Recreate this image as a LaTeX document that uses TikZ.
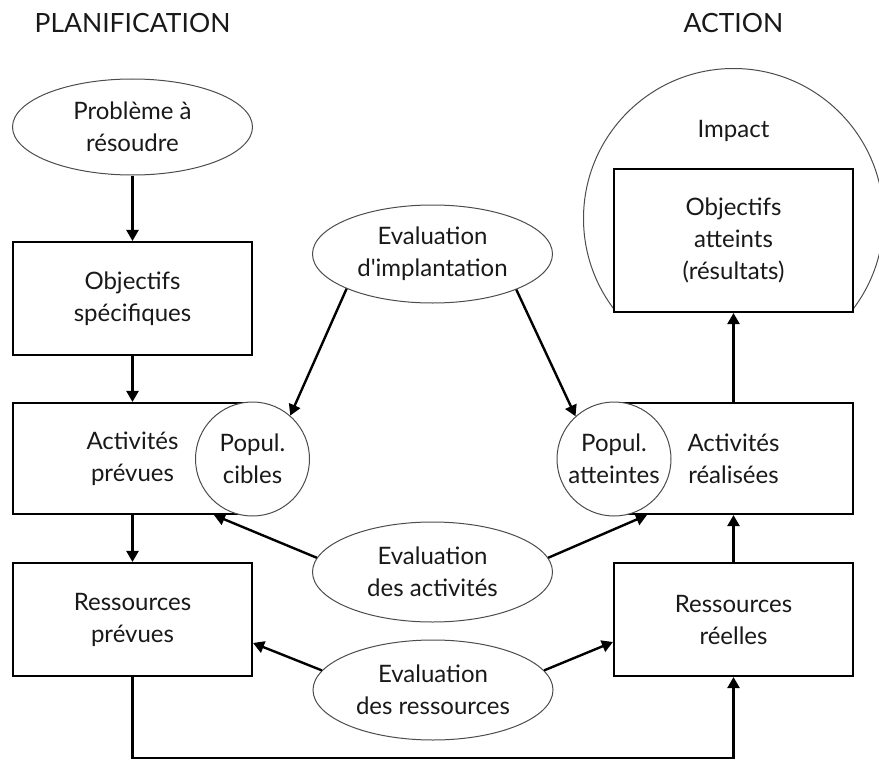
\documentclass[tikz,border=0pt]{standalone}
\usepackage{fontspec}
\setmainfont{Lato}
\usetikzlibrary{shapes.geometric,arrows.meta}

\begin{document}
\begin{tikzpicture}[x=1pt,y=-1pt,
  lbl/.style={font=\fontsize{24}{32}\selectfont, align=center, text=black!90},
  box/.style={lbl, draw=black, line width=2.1pt, fill=white, minimum width=239pt, inner sep=0pt},
  oval/.style={lbl, ellipse, draw=black!70, line width=1pt, fill=white, minimum width=240pt, minimum height=98pt, inner sep=0pt},
  pop/.style={lbl, circle, draw=black!70, line width=1pt, fill=white, minimum size=114pt, inner sep=0pt},
  flow/.style={line width=2.4pt, -{Triangle[length=11pt,width=12pt]}},
  heading/.style={font=\fontsize{26.5}{30}\selectfont, text=black!90}
]
\useasboundingbox (0,0) rectangle (879,760);

% column headings
\node[heading] (plan) at (132.5,23) {PLANIFICATION};
\node[heading] (actn) at (733.5,23) {ACTION};

% impact arc around the results box
\begin{scope}
  \clip (570,50) rectangle (890,312);
  \draw[black!70, line width=1pt] (733.5,218.5) circle[radius=150];
\end{scope}
\node[lbl] (impact) at (733.5,131) {Impact};

% planning column
\node[oval, minimum height=96pt] (prob) at (132.5,127) {Problème à\\résoudre};
\node[box, minimum height=113pt] (objS) at (132.5,298.5) {Objectifs\\spécifiques};
\node[box, minimum height=111pt] (actP) at (132.5,458.5) {Activités\\prévues};
\node[box, minimum height=113pt] (ressP) at (132.5,619.5) {Ressources\\prévues};
\node[pop] (cibles) at (252.5,459) {Popul.\\cibles};

% action column
\node[box, minimum height=143pt] (objA) at (733.5,240.5) {Objectifs\\atteints\\(résultats)};
\node[box, minimum height=111pt] (actR) at (733.5,458.5) {Activités\\réalisées};
\node[box, minimum height=113pt] (ressR) at (733.5,619.5) {Ressources\\réelles};
\node[pop] (atteintes) at (614,459) {Popul.\\atteintes};

% evaluations
\node[oval] (evalImp) at (432.5,254) {Evaluation\\d\textquotesingle implantation};
\node[oval, minimum height=100pt] (evalAct) at (432.5,572) {Evaluation\\des activités};
\node[oval, minimum height=100pt] (evalRes) at (433,690) {Evaluation\\des ressources};

% main flow
\draw[flow] (prob) -- (objS);
\draw[flow] (objS) -- (actP);
\draw[flow] (actP) -- (ressP);
\coordinate (bl) at (132.5,758);
\coordinate (br) at (733.5,758);
\draw[flow] (ressP.south) -- (bl) -- (br) -- (ressR.south);
\draw[flow] (ressR) -- (actR);
\draw[flow] (actR) -- (objA);

% evaluation links
\draw[flow] (evalImp.202) -- (cibles.49);
\draw[flow] (evalImp.337) -- (atteintes.132);
\draw[flow] (evalAct.173) -- ([xshift=202pt]actP.south west);
\draw[flow] (evalAct.7) -- ([xshift=34pt]actR.south west);
\draw[flow] (evalRes.170) -- ([yshift=-23.5pt]ressP.east);
\draw[flow] (evalRes.10) -- ([yshift=-22.5pt]ressR.west);
\end{tikzpicture}
\end{document}
